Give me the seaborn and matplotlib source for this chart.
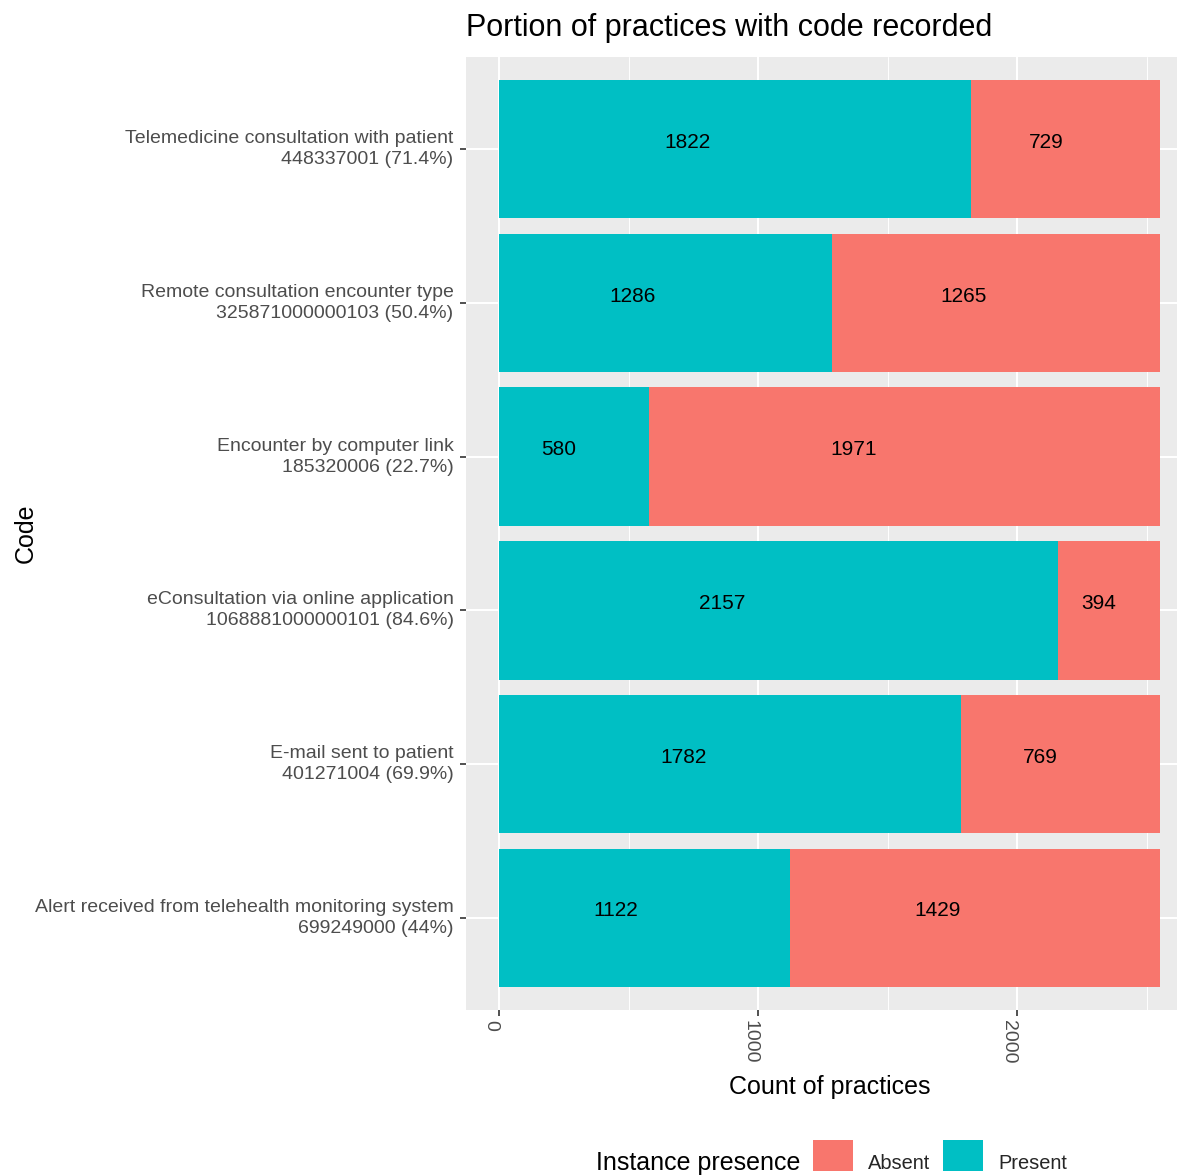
import numpy as np
import matplotlib
matplotlib.use('Agg')
import matplotlib.pyplot as plt
import seaborn as sns
from matplotlib.patches import Patch
from matplotlib.ticker import MultipleLocator
from matplotlib.transforms import ScaledTranslation

# Данные
code_names = ['Telemedicine consultation with patient',
              'Remote consultation encounter type',
              'Encounter by computer link',
              'eConsultation via online application',
              'E-mail sent to patient',
              'Alert received from telehealth monitoring system']
code_ids = ['448337001', '325871000000103', '185320006',
            '1068881000000101', '401271004', '699249000']
code_pcts = ['71.4%', '50.4%', '22.7%', '84.6%', '69.9%', '44%']
present = np.array([1822, 1286, 580, 2157, 1782, 1122])
absent = np.array([729, 1265, 1971, 394, 769, 1429])

labels = [f'{n}\n{c} ({p})' for n, c, p in zip(code_names, code_ids, code_pcts)]
total = present + absent

red = '#F8766D'
teal = '#00BFC4'

sns.set_theme(style='darkgrid', rc={'axes.facecolor': '#EBEBEB',
                                    'grid.color': 'white'})
plt.rcParams['font.family'] = ['Liberation Sans', 'DejaVu Sans']

fig = plt.figure(figsize=(11.77, 11.75), dpi=100)
ax = fig.add_axes([466 / 1177, 1 - 1010 / 1175, (1193 - 466) / 1177, (1010 - 57) / 1175])

# Полосы: сначала общая длина (Absent), затем Present поверх
sns.barplot(x=total, y=labels, color=red, width=0.9, saturation=1,
            linewidth=0, errorbar=None, orient='h', ax=ax)
sns.barplot(x=present, y=labels, color=teal, width=0.9, saturation=1,
            linewidth=0, errorbar=None, orient='h', ax=ax)

for i in range(len(labels)):
    ax.text(present[i] * 0.4, i - 0.045, str(present[i]), ha='center',
            va='center', fontsize=15, color='black')
    ax.text(present[i] + absent[i] * 0.4, i - 0.045, str(absent[i]),
            ha='center', va='center', fontsize=15, color='black')

ax.set_xlim(-127.55, 2678.55)
ax.set_ylim(5.6, -0.6)
ax.xaxis.set_major_locator(MultipleLocator(1000))
ax.xaxis.set_minor_locator(MultipleLocator(500))
ax.grid(True, which='major', color='white', linewidth=1.5)
ax.grid(True, which='minor', axis='x', color='white', linewidth=0.7)
ax.set_axisbelow(True)
for s in ax.spines.values():
    s.set_visible(False)

ax.tick_params(axis='both', which='major', length=4, width=1.2,
               color='#333333', bottom=True, left=True, pad=3,
               labelsize=14, labelcolor='#4D4D4D')
ax.tick_params(axis='y', which='major', pad=5)
ax.tick_params(axis='both', which='minor', length=0)
for t in ax.get_yticklabels():
    t.set_va('center')
    t.set_ha('right')
    t.set_linespacing(1.32)
for t in ax.get_xticklabels():
    t.set_rotation(270)
    t.set_ha('right')
    t.set_va('top')

ax.set_title('Portion of practices with code recorded', loc='left',
             fontsize=22, pad=15, color='black')
ax.set_xlabel('Count of practices', fontsize=18, color='black')
ax.set_ylabel('Code', fontsize=18, color='black')
ax.xaxis.set_label_coords(0.5, -0.068)
ax.yaxis.set_label_coords(-0.589, 0.5)

# Легенда
fig.text(596 / 1177, 1 - 1170 / 1175, 'Instance presence', fontsize=18,
         ha='left', va='baseline', color='black')
handles = [Patch(facecolor=red, edgecolor='none', label='Absent'),
           Patch(facecolor=teal, edgecolor='none', label='Present')]
leg = fig.legend(handles=handles, loc='upper left', ncol=2, frameon=False,
                 bbox_to_anchor=(813 / 1177, 1 - 1140 / 1175), fontsize=14.4,
                 handlelength=2, handleheight=2, handletextpad=0.75,
                 columnspacing=0.65, borderpad=0, borderaxespad=0)
for t in leg.get_texts():
    t.set_transform(t.get_transform() + ScaledTranslation(0, -0.07, fig.dpi_scale_trans))

fig.savefig('out.png', dpi=100)
